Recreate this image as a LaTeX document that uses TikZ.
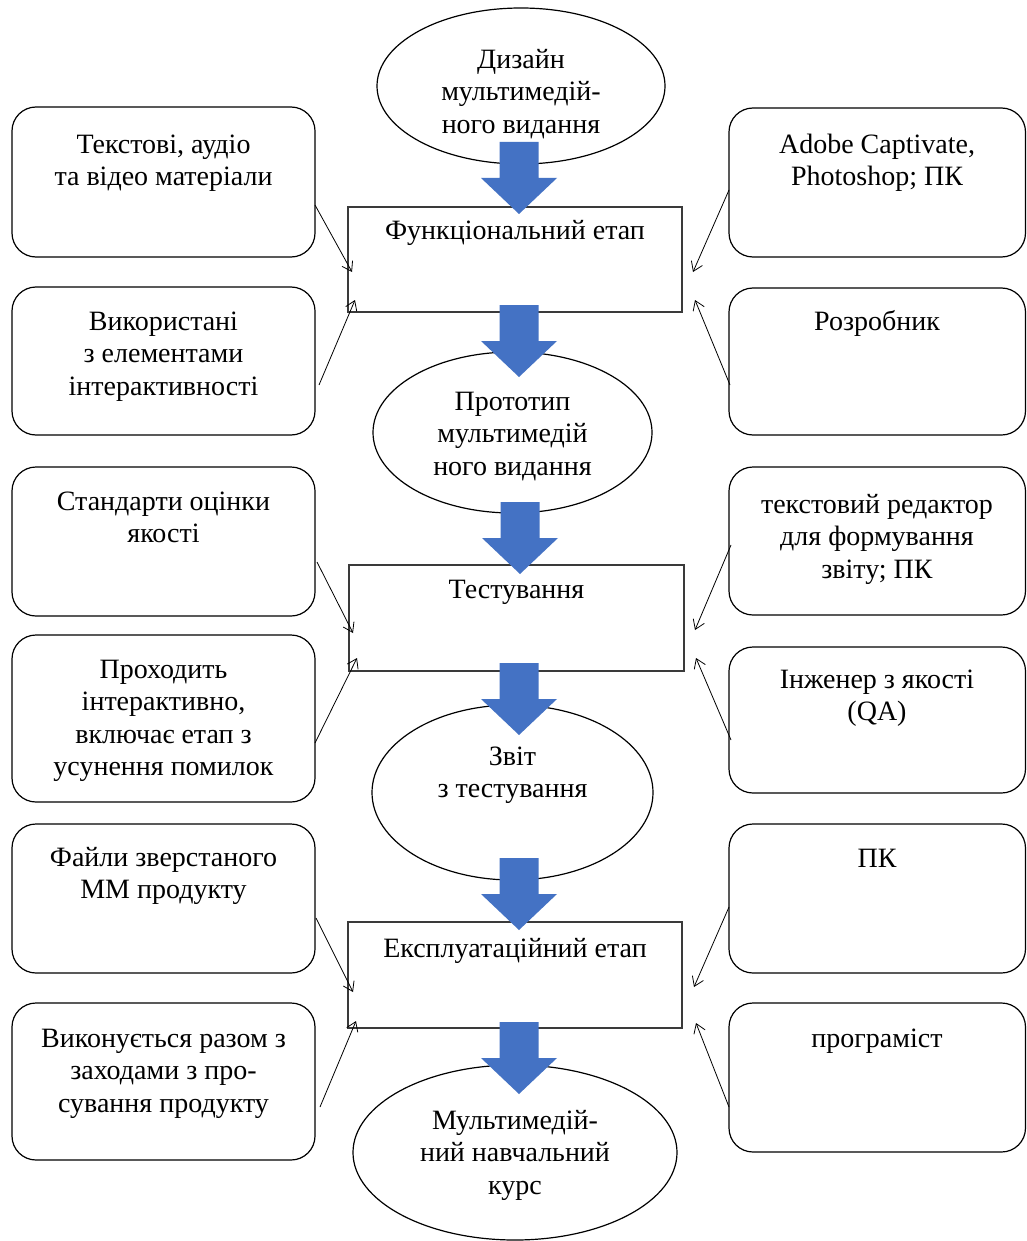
\documentclass[tikz,border=0pt]{standalone}
\usepackage{fontspec}
\setmainfont{Liberation Serif}
\usetikzlibrary{shapes.geometric,arrows.meta,calc}

\definecolor{arrowblue}{HTML}{4472C4}
\definecolor{frame}{HTML}{3A3A3A}

% invisible rule that fixes the height of a text block's first line
\newcommand\lnstrut{\rule{0pt}{22pt}}

\begin{document}
\begin{tikzpicture}[x=1pt,y=-1pt,
  rbox/.style={draw=black, line width=1.2pt, rounded corners=24pt,
               inner sep=0pt, outer sep=0pt},
  oval/.style={ellipse, draw=black, line width=1.2pt, inner sep=0pt, outer sep=0pt},
  stage/.style={draw=frame, line width=1.7pt, inner sep=0pt, outer sep=0pt},
  txt/.style={anchor=north, align=center, inner sep=0pt,
              font=\fontsize{28}{32.5}\selectfont},
  conn/.style={draw=black, line width=0.8pt,
               -{Straight Barb[length=9pt,width=12pt]}},
  downarrow/.pic={
    \fill[arrowblue] (-19.5,0) -- (19.5,0) -- (19.5,36) -- (38,36)
                     -- (0,72) -- (-38,36) -- (-19.5,36) -- cycle;
  }
]
\fill[white] (0,0) rectangle (1027,1241);
\useasboundingbox (0,0) rectangle (1027,1241);

% ---------- side boxes ----------
\node[rbox, minimum width=303pt, minimum height=150pt] (l1) at (163.5,182) {};
\node[rbox, minimum width=303pt, minimum height=148pt] (l2) at (163.5,361) {};
\node[rbox, minimum width=303pt, minimum height=149pt] (l3) at (163.5,541.5) {};
\node[rbox, minimum width=303pt, minimum height=167pt] (l4) at (163.5,718.5) {};
\node[rbox, minimum width=303pt, minimum height=149pt] (l5) at (163.5,898.5) {};
\node[rbox, minimum width=303pt, minimum height=157pt] (l6) at (163.5,1081.5) {};

\node[rbox, minimum width=296.5pt, minimum height=149pt] (r1) at (877.25,182.5) {};
\node[rbox, minimum width=296.5pt, minimum height=147pt] (r2) at (877.25,361.5) {};
\node[rbox, minimum width=296.5pt, minimum height=148pt] (r3) at (877.25,541) {};
\node[rbox, minimum width=296.5pt, minimum height=146pt] (r4) at (877.25,720) {};
\node[rbox, minimum width=296.5pt, minimum height=149pt] (r5) at (877.25,898.5) {};
\node[rbox, minimum width=296.5pt, minimum height=149pt] (r6) at (877.25,1077.5) {};

% ---------- central column ----------
\node[oval, minimum width=288pt, minimum height=156pt] (e1) at (521,86) {};
\node[stage, minimum width=334pt, minimum height=105pt] (f1) at (515,259.5) {};
\node[oval, minimum width=279pt, minimum height=161pt] (e2) at (512.5,432.5) {};
\node[stage, minimum width=335pt, minimum height=106pt] (f2) at (516.5,618) {};
\node[oval, minimum width=281pt, minimum height=175pt] (e3) at (512.5,792.5) {};
\node[stage, minimum width=334pt, minimum height=106pt] (f3) at (515,975) {};
\node[oval, minimum width=324pt, minimum height=175pt] (e4) at (515,1152.5) {};

% ---------- texts (placed by first baseline) ----------
\node[txt] (e1t) at (521,68-22) {\lnstrut Дизайн\\мультимедій-\\ного видання};
\node[txt] (f1t) at (515,239-22) {\lnstrut Функціональний етап};
\node[txt] (l1t) at (163.5,153-22) {\lnstrut Текстові, аудіо\\та відео матеріали};
\node[txt] (l2t) at (163.5,330-22) {\lnstrut Використані\\з елементами\\інтерактивності};
\node[txt] (r1t) at (877,153-22) {\lnstrut Adobe Captivate,\\Photoshop; ПК};
\node[txt] (r2t) at (877,330-22) {\lnstrut Розробник};

\node[txt] (e2t) at (512.5,410-22) {\lnstrut Прототип\\мультимедій\\ного видання};
\node[txt] (f2t) at (516.5,598-22) {\lnstrut Тестування};
\node[txt] (l3t) at (163.5,510-22) {\lnstrut Стандарти оцінки\\якості};
\node[txt] (l4t) at (163.5,678-22) {\lnstrut Проходить\\інтерактивно,\\включає етап з\\усунення помилок};
\node[txt] (r3t) at (877,513-22) {\lnstrut текстовий редактор\\для формування\\звіту; ПК};
\node[txt] (r4t) at (877,688-22) {\lnstrut Інженер з якості\\(QA)};

\node[txt] (e3t) at (512.5,765-22) {\lnstrut Звіт\\з тестування};
\node[txt] (f3t) at (515,957-22) {\lnstrut Експлуатаційний етап};
\node[txt] (l5t) at (163.5,866-22) {\lnstrut Файли зверстаного\\ММ продукту};
\node[txt] (l6t) at (163.5,1047-22) {\lnstrut Виконується разом з\\заходами з про-\\сування продукту};
\node[txt] (r5t) at (877,867-22) {\lnstrut ПК};
\node[txt] (r6t) at (877,1047-22) {\lnstrut програміст};

\node[txt] (e4t) at (515,1129-22) {\lnstrut Мультимедій-\\ний навчальний\\курс};

% ---------- thin connectors into the stages ----------
\draw[conn] ($(l1.east)+(0,23)$) -- ($(f1.west)+(4,12.5)$);
\draw[conn] ($(l2.east)+(4,24)$) -- ($(f1.south west)+(7,-12)$);
\draw[conn] ($(r1.west)+(0,7.5)$) -- ($(f1.east)+(11,12.5)$);
\draw[conn] ($(r2.west)+(1,23.5)$) -- ($(f1.south east)+(13,-12)$);

\draw[conn] ($(l3.east)+(2,20.5)$) -- ($(f2.west)+(4,15)$);
\draw[conn] ($(l4.east)+(0,24.5)$) -- ($(f2.south west)+(8,-13)$);
\draw[conn] ($(r3.west)+(2,4)$) -- ($(f2.east)+(11,12)$);
\draw[conn] ($(r4.west)+(2,20)$) -- ($(f2.south east)+(12,-13)$);

\draw[conn] ($(l5.east)+(1,19.5)$) -- ($(f3.west)+(5,17)$);
\draw[conn] ($(l6.east)+(5,25.5)$) -- ($(f3.south west)+(8,-7)$);
\draw[conn] ($(r5.west)+(0,8.5)$) -- ($(f3.east)+(12,12)$);
\draw[conn] ($(r6.west)+(0,29.5)$) -- ($(f3.south east)+(14,-5)$);

% ---------- block arrows along the main flow ----------
\pic at (519,142) {downarrow};
\pic at (519,305) {downarrow};
\pic at (520,502) {downarrow};
\pic at (519,663) {downarrow};
\pic at (519,858) {downarrow};
\pic at (519,1022) {downarrow};
\end{tikzpicture}
\end{document}
